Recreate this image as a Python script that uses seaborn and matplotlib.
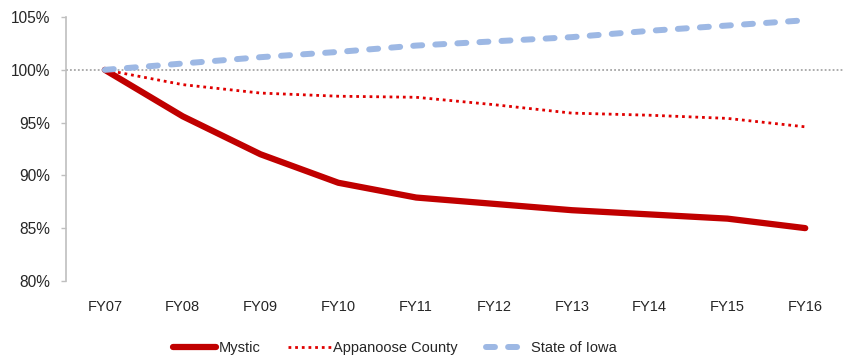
import pandas as pd
import matplotlib
matplotlib.use("Agg")
import matplotlib.pyplot as plt
import seaborn as sns

years = ["FY07", "FY08", "FY09", "FY10", "FY11", "FY12", "FY13", "FY14", "FY15", "FY16"]
mystic = [100.0, 95.6, 92.0, 89.3, 87.9, 87.3, 86.7, 86.3, 85.9, 85.0]
appanoose = [100.0, 98.6, 97.8, 97.5, 97.4, 96.7, 95.9, 95.7, 95.4, 94.6]
iowa = [100.0, 100.6, 101.2, 101.7, 102.3, 102.7, 103.1, 103.7, 104.2, 104.7]
y_ticks = [80, 85, 90, 95, 100, 105]

sns.set_style("white")
plt.rcParams["font.family"] = ["Liberation Sans", "DejaVu Sans"]

fig = plt.figure(figsize=(8.45, 3.56), dpi=100)
ax = fig.add_axes([0.078, 0.211, 0.921, 0.741])

pos = list(range(len(years)))
series = [
    ("Mystic", mystic, dict(color="#C00000", linewidth=4.5, solid_capstyle="round")),
    ("Appanoose County", appanoose, dict(color="#E00000", linewidth=2.0, linestyle=(0, (1, 1.4)))),
    ("State of Iowa", iowa, dict(color="#9DB8E4", linewidth=4.3, linestyle=(0, (1.5, 2.2)),
                                 dash_capstyle="round")),
]

# reference line at 100%
ax.axhline(100, color="#A6A6A6", linewidth=1.3, linestyle=(0, (1, 1.2)), zorder=1)

for name, vals, kw in series:
    df = pd.DataFrame({"pos": pos, "value": vals})
    sns.lineplot(data=df, x="pos", y="value", ax=ax, label=name, zorder=3, **kw)

ax.set_xlim(-0.5, len(years) - 0.5)
ax.set_ylim(80, 105)
ax.set_xticks(pos)
ax.set_xticklabels(years)
ax.set_yticks(y_ticks)
ax.set_yticklabels([f"{t}%" for t in y_ticks])
ax.set_xlabel("")
ax.set_ylabel("")

for s in ["top", "right", "bottom"]:
    ax.spines[s].set_visible(False)
ax.spines["left"].set_color("#BFBFBF")
ax.spines["left"].set_linewidth(1.2)
ax.tick_params(axis="y", length=3.6, color="#BFBFBF", width=1.0, labelsize=11.2,
               labelcolor="#262626", pad=8, left=True)
ax.tick_params(axis="x", length=0, labelsize=10.5, labelcolor="#262626", pad=14)

ax.legend(loc="upper center", bbox_to_anchor=(0.423, -0.18), ncol=3, frameon=False,
          fontsize=10.5, handlelength=2.9, columnspacing=1.9, handletextpad=0.2,
          labelcolor="#262626")

fig.savefig("out.png", dpi=100)
